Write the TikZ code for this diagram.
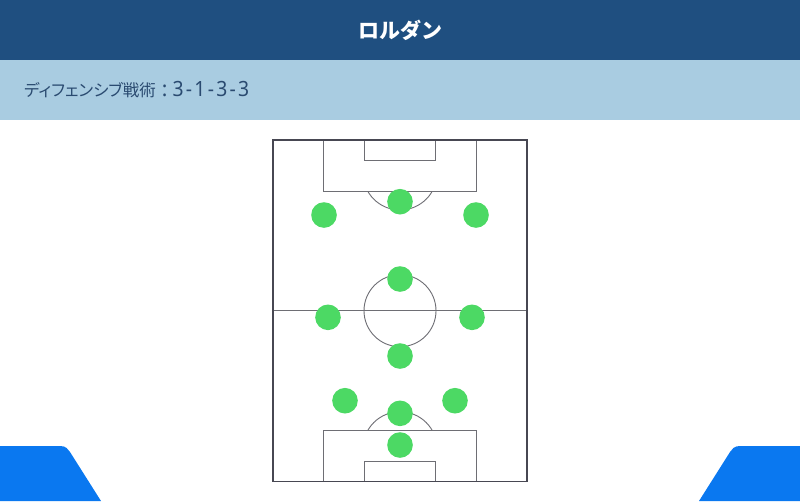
\documentclass[tikz,border=0pt]{standalone}
\usepackage{fontspec}
\newfontfamily\jp{Noto Sans CJK JP}
\newfontfamily\jpp[RawFeature=+palt]{Noto Sans CJK JP}
\newfontfamily\digitfont[LetterSpace=12]{Noto Sans}
\definecolor{hdr}{HTML}{1F4F80}
\definecolor{band}{HTML}{A9CCE1}
\definecolor{bandtxt}{HTML}{2A4A70}
\definecolor{btn}{HTML}{0A78F0}
\definecolor{pl}{HTML}{4CD964}
\definecolor{outer}{HTML}{474752}
\definecolor{inner}{HTML}{6E6E74}
\tikzset{
  player/.style={circle,fill=pl,draw=none,minimum size=25.6pt,inner sep=0pt},
  outline/.style={draw=outer,line width=1.3pt},
  markline/.style={draw=inner,line width=0.9pt}
}
\begin{document}
\begin{tikzpicture}[x=1pt,y=-1pt]
\useasboundingbox (0,0) rectangle (800,501);
\fill[white] (0,0) rectangle (800,501);
% header
\fill[hdr] (0,0) rectangle (800,60);
\fill[band] (0,60) rectangle (800,120);
\node[text=white,font=\jp\bfseries\fontsize{21}{24}\selectfont] (title) at (400,30) {ロルダン};
\node[anchor=west,text=bandtxt,inner sep=0pt] (tactic) at (24,89.5)
  {\jpp\fontsize{16.5}{20}\selectfont ディフェンシブ戦術\hspace{6pt}{\digitfont\fontsize{21}{22}\selectfont :\hspace{5pt}\scalebox{0.92}[1]{3-1-3-3}}};
% bottom buttons
\fill[btn] (0,446) -- (60,446) .. controls (66,446) and (68,449) .. (70,452) -- (101,501) -- (0,501) -- cycle;
\fill[btn] (800,446) -- (740,446) .. controls (734,446) and (732,449) .. (730,452) -- (699,501) -- (800,501) -- cycle;
% pitch
\draw[markline] (273,310.7) -- (527,310.7);
\draw[markline] (400,310.7) circle (36);
\draw[markline] (323.3,140) rectangle (476.7,191.7);
\draw[markline] (364.3,140) rectangle (435.7,160.7);
\draw[markline] (323.3,481.7) rectangle (476.7,430);
\draw[markline] (364.3,481.7) rectangle (435.7,461);
\begin{scope}
\clip (300,191.7) rectangle (500,260);
\draw[markline] (400,172.9) circle (37.1);
\end{scope}
\begin{scope}
\clip (300,360) rectangle (500,430);
\draw[markline] (400,448.8) circle (37.1);
\end{scope}
\draw[outline] (273,140) rectangle (527,481.7);
% players
\node[player] (p1) at (400,201.7) {};
\node[player] (p2) at (324,215) {};
\node[player] (p3) at (476,215) {};
\node[player] (p4) at (400,279) {};
\node[player] (p5) at (328,317.3) {};
\node[player] (p6) at (472,317.3) {};
\node[player] (p7) at (400,356) {};
\node[player] (p8) at (345,400.7) {};
\node[player] (p9) at (455,400.7) {};
\node[player] (p10) at (400,413.3) {};
\node[player] (gk) at (400,445) {};
\end{tikzpicture}
\end{document}
